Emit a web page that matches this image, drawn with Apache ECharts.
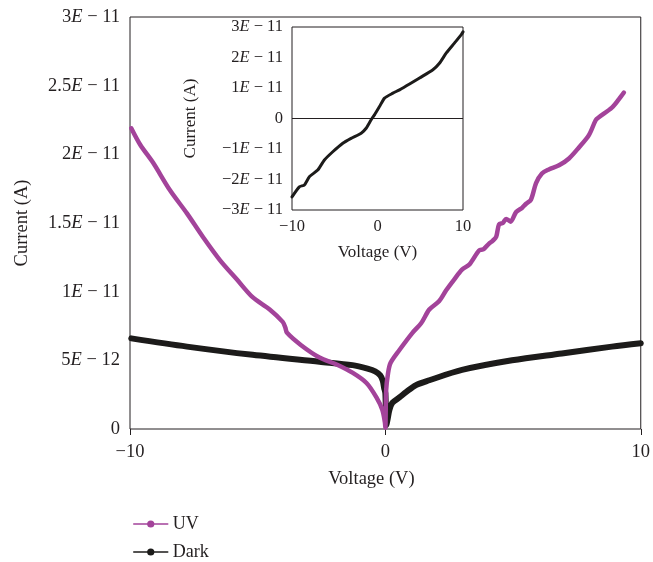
<!DOCTYPE html>
<html>
<head>
<meta charset="utf-8">
<script src="https://cdn.jsdelivr.net/npm/echarts@6/dist/echarts.min.js"></script>
<style>
  html, body { margin: 0; padding: 0; background: #ffffff; }
  #chart { width: 653px; height: 562px; }
</style>
</head>
<body>
<div id="chart"></div>
<script>
// Main I–V sweep: UV illuminated vs. dark (current in amperes)
const uvVoltage = [-9.95, -9.6, -9.1, -8.44, -7.77, -7.15, -6.48, -5.82, -5.2, -4.53, -4.02, -3.92, -3.85, -3.3, -2.58, -1.91, -1.29, -0.74, -0.35, -0.12, -0.02, 0,
  0.03, 0.1, 0.2, 0.55, 1.06, 1.4, 1.72, 2.1, 2.38, 2.7, 3.0, 3.3, 3.67, 3.85, 4.06, 4.2, 4.34, 4.45, 4.6, 4.73, 4.9, 5.12, 5.35, 5.51, 5.7, 5.9, 6.13, 6.4, 6.8, 7.19, 7.58, 7.97, 8.24, 8.36, 8.87, 9.14, 9.34];
const uvCurrent = [2.19e-11, 2.07e-11, 1.94e-11, 1.74e-11, 1.57e-11, 1.40e-11, 1.23e-11, 1.09e-11, 9.6e-12, 8.7e-12, 7.8e-12, 7.4e-12, 7.0e-12, 6.1e-12, 5.2e-12, 4.7e-12, 4.1e-12, 3.35e-12, 2.3e-12, 1.4e-12, 5e-13, 1e-13,
  2.8e-12, 4.0e-12, 4.8e-12, 5.75e-12, 7.0e-12, 7.7e-12, 8.7e-12, 9.3e-12, 1.01e-11, 1.09e-11, 1.16e-11, 1.20e-11, 1.30e-11, 1.31e-11, 1.35e-11, 1.37e-11, 1.40e-11, 1.49e-11, 1.50e-11, 1.53e-11, 1.51e-11, 1.58e-11, 1.61e-11, 1.64e-11, 1.67e-11, 1.79e-11, 1.86e-11, 1.89e-11, 1.92e-11, 1.97e-11, 2.05e-11, 2.14e-11, 2.25e-11, 2.27e-11, 2.34e-11, 2.40e-11, 2.45e-11];

const darkVoltage = [-9.95, -7.77, -5.2, -2.58, -1.29, -0.7, -0.4, -0.2, -0.1, -0.05, 0, 0.04, 0.08, 0.16, 0.27, 0.55, 0.82, 1.2, 1.72, 3.0, 4.96, 6.91, 8.87, 10];
const darkCurrent = [6.6e-12, 6.0e-12, 5.4e-12, 4.9e-12, 4.65e-12, 4.4e-12, 4.2e-12, 3.9e-12, 3.5e-12, 3.0e-12, 2.6e-12, 3e-13, 6.5e-13, 1.4e-12, 1.9e-12, 2.3e-12, 2.7e-12, 3.2e-12, 3.55e-12, 4.3e-12, 5.0e-12, 5.5e-12, 6.0e-12, 6.25e-12];

// Inset: dark-current sweep on a symmetric scale
const insetVoltage = [-10, -9.14, -8.55, -7.97, -6.99, -6.21, -5.23, -4.06, -3.09, -1.91, -1.33, -0.74, -0.35, 0.23, 0.82, 1.8, 2.58, 3.75, 4.92, 6.48, 7.27, 8.05, 9.02, 9.8, 10];
const insetCurrent = [-2.57e-11, -2.24e-11, -2.18e-11, -1.91e-11, -1.69e-11, -1.36e-11, -1.09e-11, -8.1e-12, -6.5e-12, -4.8e-12, -3.2e-12, -4e-13, 1.2e-12, 3.9e-12, 6.7e-12, 8.3e-12, 9.4e-12, 1.13e-11, 1.33e-11, 1.60e-11, 1.82e-11, 2.15e-11, 2.48e-11, 2.75e-11, 2.84e-11];

// Tick labels
const mainYTicks = ['0', '5E − 12', '1E − 11', '1.5E − 11', '2E − 11', '2.5E − 11', '3E − 11'];
const insetYTicks = ['−3E − 11', '−2E − 11', '−1E − 11', '0', '1E − 11', '2E − 11', '3E − 11'];
const xTicks = { '-10': '−10', '0': '0', '10': '10' };

const seriesNames = ['UV', 'Dark'];
const uvColor = '#a3439a';
const darkColor = '#1c1b1a';
const ink = '#231f20';
const serif = '"Liberation Serif", "DejaVu Serif", serif';

const zip = (xs, ys) => xs.map((x, i) => [x, ys[i]]);
const italicE = s => s.replace('E', '{e|E}');

const chart = echarts.init(document.getElementById('chart'), null, { renderer: 'canvas' });

const tickFont = { fontFamily: serif, fontSize: 18.5, color: ink };
const insetFont = { fontFamily: serif, fontSize: 16.5, color: ink };

// One legend block per series so they stack vertically
const legendBlock = (name, top) => ({
  data: [name],
  orient: 'vertical',
  left: 128,
  top: top,
  itemWidth: 34,
  itemHeight: 9,
  lineStyle: { width: 1.5 },
  textStyle: { fontFamily: serif, fontSize: 18, color: ink }
});

chart.setOption({
  backgroundColor: '#ffffff',
  animation: false,
  legend: [legendBlock(seriesNames[0], 510), legendBlock(seriesNames[1], 538)],
  grid: [
    { left: 130, right: 11, top: 17, bottom: 133, show: true, borderColor: ink, borderWidth: 1, backgroundColor: 'transparent' },
    { left: 292, right: 190, top: 27, bottom: 352, show: true, borderColor: ink, borderWidth: 1, backgroundColor: '#ffffff', z: 5 }
  ],
  xAxis: [
    {
      type: 'value', gridIndex: 0, min: -10, max: 10, interval: 10,
      name: 'Voltage (V)', nameLocation: 'middle', nameGap: 41,
      nameTextStyle: { fontFamily: serif, fontSize: 18.5, color: ink, padding: [0, 28, 0, 0] },
      axisLine: { show: false },
      axisTick: { show: true, inside: false, length: 6, lineStyle: { color: ink, width: 1 } },
      axisLabel: Object.assign({ margin: 14, formatter: v => xTicks[String(Math.round(v))] || '' }, tickFont),
      splitLine: { show: false }
    },
    {
      type: 'value', gridIndex: 1, min: -10, max: 10, interval: 10,
      name: 'Voltage (V)', nameLocation: 'middle', nameGap: 34,
      nameTextStyle: { fontFamily: serif, fontSize: 17, color: ink },
      axisLine: { show: false },
      axisTick: { show: false },
      axisLabel: Object.assign({ margin: 8, formatter: v => xTicks[String(Math.round(v))] || '' }, insetFont),
      splitLine: { show: false }
    }
  ],
  yAxis: [
    {
      type: 'value', gridIndex: 0, min: 0, max: 3e-11, interval: 5e-12,
      name: 'Current (A)', nameLocation: 'middle', nameGap: 98, nameRotate: 90,
      nameTextStyle: { fontFamily: serif, fontSize: 18.5, color: ink },
      axisLine: { show: false },
      axisTick: { show: false },
      axisLabel: Object.assign({
        margin: 10,
        formatter: v => italicE(mainYTicks[Math.round(v / 5e-12)] || ''),
        rich: { e: { fontFamily: serif, fontSize: 18.5, fontStyle: 'italic', color: ink } }
      }, tickFont),
      splitLine: { show: false }
    },
    {
      type: 'value', gridIndex: 1, min: -3e-11, max: 3e-11, interval: 1e-11,
      name: 'Current (A)', nameLocation: 'middle', nameGap: 93, nameRotate: 90,
      nameTextStyle: { fontFamily: serif, fontSize: 17, color: ink },
      axisLine: { show: false },
      axisTick: { show: false },
      axisLabel: Object.assign({
        margin: 9,
        formatter: v => italicE(insetYTicks[Math.round(v / 1e-11) + 3] || ''),
        rich: { e: { fontFamily: serif, fontSize: 16.5, fontStyle: 'italic', color: ink } }
      }, insetFont),
      splitLine: { show: false }
    }
  ],
  series: [
    {
      name: 'Dark', type: 'line', xAxisIndex: 0, yAxisIndex: 0,
      data: zip(darkVoltage, darkCurrent),
      showSymbol: false, symbol: 'circle', symbolSize: 8,
      smooth: 0.3,
      lineStyle: { color: darkColor, width: 6, cap: 'round', join: 'round' },
      itemStyle: { color: darkColor },
      z: 2
    },
    {
      name: 'UV', type: 'line', xAxisIndex: 0, yAxisIndex: 0,
      data: zip(uvVoltage, uvCurrent),
      showSymbol: false, symbol: 'circle', symbolSize: 8,
      smooth: 0.3,
      lineStyle: { color: uvColor, width: 4.5, cap: 'round', join: 'round' },
      itemStyle: { color: uvColor },
      z: 3
    },
    {
      name: 'inset', type: 'line', xAxisIndex: 1, yAxisIndex: 1,
      data: zip(insetVoltage, insetCurrent),
      showSymbol: false, symbol: 'none',
      smooth: 0.2,
      lineStyle: { color: darkColor, width: 3, cap: 'round', join: 'round' },
      markLine: {
        silent: true, symbol: 'none', label: { show: false },
        lineStyle: { color: ink, width: 1, type: 'solid' },
        data: [{ yAxis: 0 }]
      },
      z: 6
    }
  ]
});
</script>
</body>
</html>
